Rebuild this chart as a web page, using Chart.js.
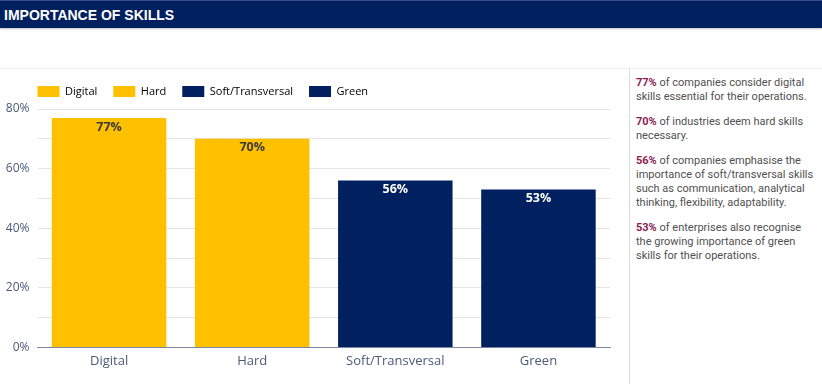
<!DOCTYPE html>
<html>
<head>
<meta charset="utf-8">
<script src="https://cdn.jsdelivr.net/npm/chart.js@4/dist/chart.umd.min.js"></script>
<style>
  html, body { margin:0; padding:0; background:#fff; }
  body { width:822px; height:384px; position:relative; overflow:hidden; font-family:"Open Sans", sans-serif; }
  #header { position:absolute; left:0; top:0; width:822px; height:28px; background:#002060; border-top:1px solid #3b4f86; box-sizing:border-box; box-shadow:0 1px 2px rgba(0,0,0,0.25); }
  #header span { position:absolute; left:4px; top:6px; color:#fff; font:bold 14px "Liberation Sans", Arial, sans-serif; }
  #panelTop { position:absolute; left:0; top:68px; width:822px; height:1px; background:#ececec; }
  #chartBox { position:absolute; left:0; top:70px; width:629px; height:314px; }
  #divider { position:absolute; left:629px; top:69px; width:1px; height:315px; background:#dcdcdc; }
  #notes { position:absolute; left:636px; top:76px; width:180px; font:11px Roboto, sans-serif; color:#505050; line-height:14px; }
  #notes p { margin:0 0 11px 0; }
  #notes b { color:#8b1d52; font-weight:bold; }
</style>
</head>
<body>
<div id="header"><span>IMPORTANCE OF SKILLS</span></div>
<div id="panelTop"></div>
<div id="chartBox"><canvas id="c"></canvas></div>
<div id="divider"></div>
<div id="notes"></div>
<script>
const categories = ["Digital", "Hard", "Soft/Transversal", "Green"];
const values = [77, 70, 56, 53];
const barColors = ["#FFC000", "#FFC000", "#002060", "#002060"];
const labelColors = ["#3a3a3a", "#3a3a3a", "#ffffff", "#ffffff"];
const yTicks = [0, 20, 40, 60, 80];
const notes = [
  ["77%", " of companies consider digital skills essential for their operations."],
  ["70%", " of industries deem hard skills necessary."],
  ["56%", " of companies emphasise the importance of soft/transversal skills such as communication, analytical thinking, flexibility, adaptability."],
  ["53%", " of enterprises also recognise the growing importance of green skills for their operations."]
];

document.getElementById('notes').innerHTML = notes.map(n => `<p><b>${n[0]}</b>${n[1]}</p>`).join('');

const textColor = "#4a5a78";

const valueLabels = {
  id: 'valueLabels',
  afterDatasetsDraw(chart) {
    const ctx = chart.ctx;
    const meta = chart.getDatasetMeta(0);
    ctx.save();
    ctx.font = 'bold 12.5px "Open Sans", sans-serif';
    ctx.textAlign = 'center';
    ctx.textBaseline = 'middle';
    meta.data.forEach((bar, i) => {
      ctx.fillStyle = labelColors[i];
      ctx.fillText(values[i] + '%', bar.x, bar.y + 9);
    });
    ctx.restore();
  }
};

const legendShift = {
  id: 'legendShift',
  beforeDraw(chart) {
    const lg = chart.legend;
    const pad = chart.options.plugins.legend.labels.padding;
    const w = lg.right - lg.left;
    const h = lg.bottom - lg.top;
    lg.left = chart.chartArea.left - pad;
    lg.right = lg.left + w;
    lg.top = lg.top - 2;
    lg.bottom = lg.top + h;
  }
};

new Chart(document.getElementById('c'), {
  type: 'bar',
  data: {
    labels: categories,
    datasets: [{
      data: values,
      backgroundColor: barColors,
      borderWidth: 0,
      categoryPercentage: 1.0,
      barPercentage: 0.8
    }]
  },
  options: {
    responsive: true,
    maintainAspectRatio: false,
    animation: false,
    layout: { padding: { left: 0, right: 19, top: 2, bottom: 9 } },
    plugins: {
      tooltip: { enabled: false },
      legend: {
        display: true,
        position: 'top',
        align: 'start',
        fullSize: false,
        labels: {
          boxWidth: 22,
          boxHeight: 11,
          padding: 16,
          color: textColor,
          font: { family: '"Open Sans", sans-serif', size: 11 },
          generateLabels: () => categories.map((c, i) => ({
            text: c,
            fillStyle: barColors[i],
            strokeStyle: barColors[i],
            lineWidth: 0,
            hidden: false,
            index: i
          }))
        }
      }
    },
    scales: {
      x: {
        grid: { display: false, drawTicks: false },
        border: { display: true, color: '#7d88a0', width: 1 },
        ticks: { color: textColor, font: { family: '"Open Sans", sans-serif', size: 13 }, padding: 6 }
      },
      y: {
        min: 0,
        max: 80,
        border: { display: false },
        grid: { color: '#e4e4e4', drawTicks: false, lineWidth: 1 },
        afterFit: scale => { scale.width = 37.5; },
        ticks: {
          stepSize: 10,
          padding: 8,
          color: textColor,
          font: { family: '"Open Sans", sans-serif', size: 12 },
          callback: v => yTicks.includes(v) ? v + '%' : ''
        }
      }
    }
  },
  plugins: [valueLabels, legendShift]
});
</script>
</body>
</html>
